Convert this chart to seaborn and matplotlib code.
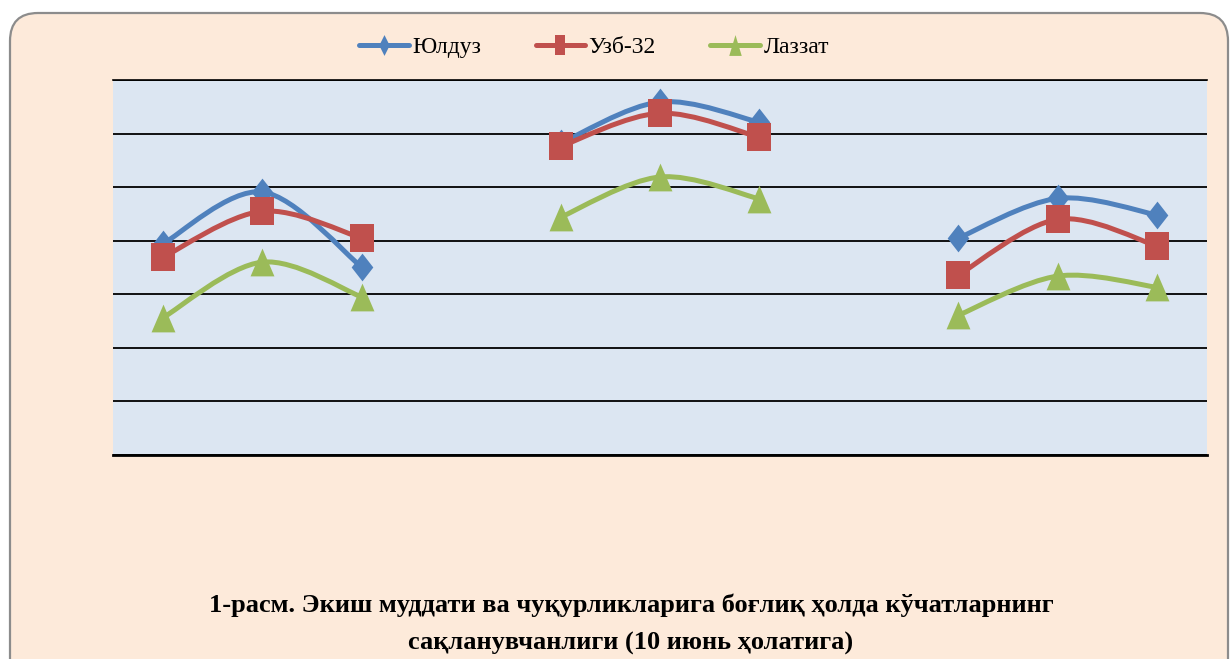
import numpy as np
import matplotlib
matplotlib.use("Agg")
import matplotlib.pyplot as plt
import seaborn as sns
from matplotlib.path import Path
from matplotlib.patches import PathPatch, FancyBboxPatch
from matplotlib.lines import Line2D
from matplotlib.transforms import IdentityTransform

# ---------------- data ----------------
categories = list(range(11))            # 3 groups of 3 points, gaps at 3 and 7
series_names = ["Юлдуз", "Узб-32", "Лаззат"]
yulduz = [39.4, 49.1, 35.1, np.nan, 58.2, 65.9, 62.1, np.nan, 40.5, 47.9, 44.8]
uzb32  = [36.9, 45.5, 40.5, np.nan, 57.6, 63.8, 59.3, np.nan, 33.6, 44.0, 39.0]
lazzat = [25.6, 36.0, 29.5, np.nan, 44.4, 51.9, 47.8, np.nan, 26.1, 33.4, 31.3]
y_ticks = [0, 10, 20, 30, 40, 50, 60, 70]
caption_lines = [
    "1-расм. Экиш муддати ва чуқурликларига боғлиқ ҳолда кўчатларнинг",
    "сақланувчанлиги (10 июнь ҳолатига)",
]

# ---------------- style ----------------
sns.set_style("white")
plt.rcParams["font.family"] = ["Liberation Serif", "DejaVu Serif"]
plt.rcParams["text.color"] = "black"

colors = ["#4F81BD", "#C0504D", "#9BBB59"]
diamond = [(0, -0.5), (0.39, 0), (0, 0.5), (-0.39, 0)]
square = [(-0.42, -0.5), (0.42, -0.5), (0.42, 0.5), (-0.42, 0.5)]
triangle = [(-0.43, -0.5), (0.43, -0.5), (0, 0.5)]
markers = [diamond, square, triangle]
leg_diamond = [(0, -0.5), (0.25, 0), (0, 0.5), (-0.25, 0)]
leg_square = [(-0.25, -0.5), (0.25, -0.5), (0.25, 0.5), (-0.25, 0.5)]
leg_triangle = [(-0.3, -0.5), (0.3, -0.5), (0, 0.5)]
leg_markers = [leg_diamond, leg_square, leg_triangle]

fig = plt.figure(figsize=(12.32, 6.59), dpi=100, facecolor="white")
border = FancyBboxPatch((10, -60), 1218, 706,
                        boxstyle="round,pad=0,rounding_size=28",
                        transform=IdentityTransform(),
                        fc="#FDEADA", ec="#8C8C8C", lw=1.6, zorder=-5)
fig.patches.append(border)

ax = fig.add_axes([113 / 1232, 1 - 455 / 659, 1094 / 1232, 375 / 659])
ax.set_facecolor("#DCE6F2")


def smooth_path(xs, ys):
    pts = np.column_stack([xs, ys])
    n = len(pts)
    verts = [pts[0]]
    codes = [Path.MOVETO]
    for i in range(n - 1):
        p0 = pts[i - 1] if i > 0 else pts[i]
        p1 = pts[i]
        p2 = pts[i + 1]
        p3 = pts[i + 2] if i + 2 < n else pts[i + 1]
        c1 = p1 + (p2 - p0) / 6.0
        c2 = p2 - (p3 - p1) / 6.0
        verts += [c1, c2, p2]
        codes += [Path.CURVE4] * 3
    return Path(verts, codes)


all_series = [yulduz, uzb32, lazzat]
for k, (vals, col, mk) in enumerate(zip(all_series, colors, markers)):
    x = np.array(categories, dtype=float)
    y = np.array(vals, dtype=float)
    ok = ~np.isnan(y)
    idx = np.where(ok)[0]
    groups = np.split(idx, np.where(np.diff(idx) > 1)[0] + 1)
    for g in groups:
        p = smooth_path(x[g], y[g])
        ax.add_patch(PathPatch(p, fill=False, ec=col, lw=3.6,
                               capstyle="round", joinstyle="round",
                               zorder=2 + 2 * k))
    sns.lineplot(x=x[ok], y=y[ok], ax=ax, color=col, lw=0, marker=mk,
                 markersize=20, markeredgewidth=0, markerfacecolor=col,
                 legend=False, sort=False, zorder=3 + 2 * k)

ax.set_xlim(-0.5, 10.5)
ax.set_ylim(0, 70)
ax.set_yticks(y_ticks)
ax.set_xticks([])
ax.yaxis.grid(True, color="black", lw=1.3)
ax.xaxis.grid(False)
ax.set_axisbelow(True)
ax.tick_params(left=False, bottom=False, labelleft=False, labelbottom=False)
ax.set_xlabel("")
ax.set_ylabel("")
for s in ["left", "right"]:
    ax.spines[s].set_visible(False)
ax.spines["top"].set_color("black")
ax.spines["top"].set_linewidth(1.2)
ax.spines["bottom"].set_color("black")
ax.spines["bottom"].set_linewidth(2.0)

handles = [Line2D([], [], color=c, lw=3.6, marker=m, markersize=15,
                  markeredgewidth=0, markerfacecolor=c)
           for c, m in zip(colors, leg_markers)]
fig.legend(handles, series_names, loc="center", bbox_to_anchor=(594 / 1232, 1 - 47 / 659),
           ncol=3, frameon=False, fontsize=17, handlelength=2.1,
           handletextpad=0.15, columnspacing=2.3, labelcolor="black")

fig.text(631 / 1232, 1 - 605 / 659, caption_lines[0], ha="center", va="center",
         fontsize=19, fontweight="bold", color="black")
fig.text(631 / 1232, 1 - 643 / 659, caption_lines[1], ha="center", va="center",
         fontsize=19, fontweight="bold", color="black")

fig.savefig("out.png", dpi=100, facecolor="white")
